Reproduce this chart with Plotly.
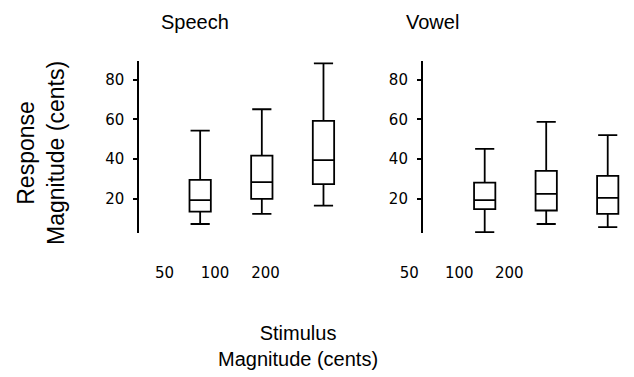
import plotly.graph_objects as go

# ---- data ----
magnitudes = ["50", "100", "200"]
panels = ["Speech", "Vowel"]

speech_upper = [54.3, 65.1, 88.3]
speech_q3 = [29.5, 41.7, 59.2]
speech_median = [19.2, 28.3, 39.4]
speech_q1 = [13.4, 19.9, 27.3]
speech_lower = [7.2, 12.3, 16.5]

vowel_upper = [45.1, 58.7, 52.0]
vowel_q3 = [28.1, 34.0, 31.5]
vowel_median = [19.2, 22.4, 20.4]
vowel_q1 = [14.7, 14.0, 12.3]
vowel_lower = [3.1, 7.2, 5.6]

yticks = [20, 40, 60, 80]

W, H = 634, 377
TICKFONT = dict(family="DejaVu Sans", size=15, color="black")
TXTFONT = "Liberation Sans, Arial, sans-serif"

fig = go.Figure()

box_style = dict(
    line=dict(color="black", width=1.8),
    fillcolor="rgba(255,255,255,0)",
    width=0.346,
    whiskerwidth=0.9,
    showlegend=False,
    hoverinfo="skip",
)

series = [
    ("x", speech_lower, speech_q1, speech_median, speech_q3, speech_upper),
    ("x2", vowel_lower, vowel_q1, vowel_median, vowel_q3, vowel_upper),
]
for xa, lo, q1, med, q3, up in series:
    fig.add_trace(go.Box(
        x=list(range(len(magnitudes))),
        lowerfence=lo, q1=q1, median=med, q3=q3, upperfence=up,
        xaxis=xa, yaxis="y" if xa == "x" else "y2",
        **box_style,
    ))

# invisible traces to carry the category tick-label axes
for xa, ya in (("x3", "y"), ("x4", "y2")):
    fig.add_trace(go.Scatter(x=magnitudes, y=[None] * len(magnitudes),
                             xaxis=xa, yaxis=ya, mode="markers",
                             showlegend=False, hoverinfo="skip"))

ydom = [(H - 233.3) / H, (H - 60.7) / H]
yaxis_common = dict(
    range=[2.5, 89.6], domain=ydom, tickvals=yticks, ticks="outside", ticklen=4,
    tickwidth=1.5, tickcolor="black", showline=True, linecolor="black", linewidth=1.5,
    showgrid=False, zeroline=False, tickfont=TICKFONT, ticklabelstandoff=6,
)
xaxis_hidden = dict(showline=False, showticklabels=False, ticks="", showgrid=False,
                    zeroline=False)
label_axis = dict(type="category", categoryarray=magnitudes, range=[-0.5, 2.5],
                  autorange=False, anchor="free", position=(H - 262) / H,
                  showline=False, ticks="", showgrid=False, zeroline=False,
                  tickfont=TICKFONT)

fig.update_layout(
    width=W, height=H,
    margin=dict(l=0, r=0, t=0, b=0),
    paper_bgcolor="white", plot_bgcolor="rgba(0,0,0,0)",
    xaxis=dict(domain=[139 / W, 340 / W], range=[-0.992, 2.268], anchor="y", **xaxis_hidden),
    xaxis2=dict(domain=[422.7 / W, 625 / W], range=[-1.008, 2.281], anchor="y2", **xaxis_hidden),
    yaxis=dict(anchor="x", **yaxis_common),
    yaxis2=dict(anchor="x2", **yaxis_common),
    xaxis3=dict(domain=[139.25 / W, 290.75 / W], **label_axis),
    xaxis4=dict(domain=[384.3 / W, 534.3 / W], **label_axis),
)

ann_font = dict(family=TXTFONT, size=20, color="black")
fig.add_annotation(text=panels[0], x=195 / W, y=(H - 22) / H, xref="paper", yref="paper",
                   showarrow=False, font=ann_font, xanchor="center", yanchor="middle")
fig.add_annotation(text=panels[1], x=432 / W, y=(H - 22) / H, xref="paper", yref="paper",
                   showarrow=False, font=ann_font, xanchor="center", yanchor="middle")
fig.add_annotation(text="Stimulus<br>Magnitude (cents)", x=298 / W, y=(H - 346) / H,
                   xref="paper", yref="paper", showarrow=False, font=ann_font,
                   xanchor="center", yanchor="middle")
fig.add_annotation(text="Response<br>Magnitude (cents)", x=41 / W, y=(H - 153) / H,
                   xref="paper", yref="paper", showarrow=False, textangle=-90,
                   font=dict(family=TXTFONT, size=23, color="black"),
                   xanchor="center", yanchor="middle")

fig.write_html("out.html")
